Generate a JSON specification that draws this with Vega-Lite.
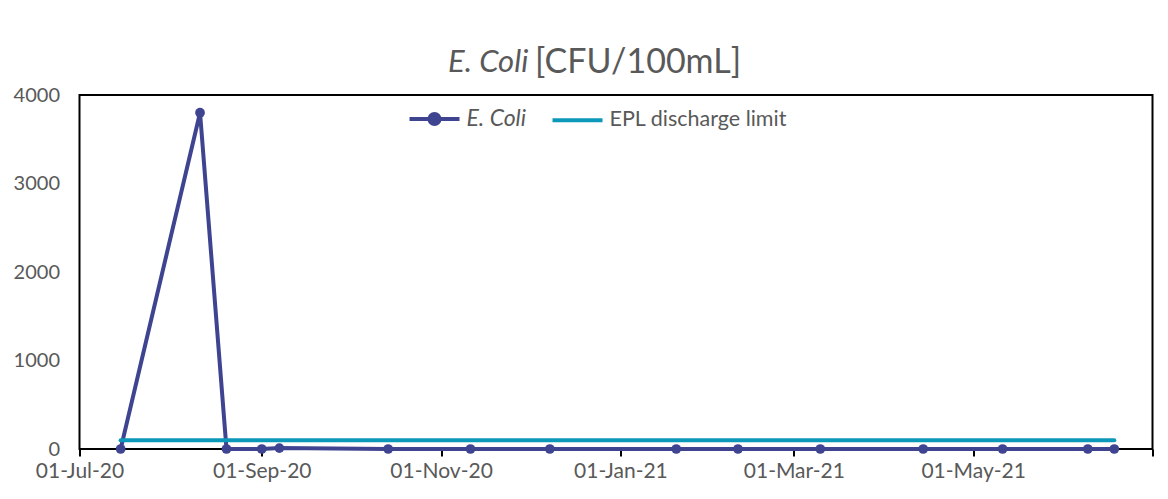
{
  "$schema": "https://vega.github.io/schema/vega-lite/v6.json",
  "width": 1073,
  "height": 354,
  "autosize": "none",
  "padding": {"left": 79.5, "top": 95, "right": 15.5, "bottom": 50},
  "background": "white",
  "config": {
    "font": "Lato",
    "view": {"stroke": "black", "strokeWidth": 2}
  },
  "data": {
    "values": [
      {"date": "2020-07-15", "series": "E. Coli", "value": 0},
      {"date": "2020-08-11", "series": "E. Coli", "value": 3800},
      {"date": "2020-08-20", "series": "E. Coli", "value": 0},
      {"date": "2020-09-01", "series": "E. Coli", "value": 0},
      {"date": "2020-09-07", "series": "E. Coli", "value": 10},
      {"date": "2020-10-14", "series": "E. Coli", "value": 0},
      {"date": "2020-11-11", "series": "E. Coli", "value": 0},
      {"date": "2020-12-08", "series": "E. Coli", "value": 0},
      {"date": "2021-01-20", "series": "E. Coli", "value": 0},
      {"date": "2021-02-10", "series": "E. Coli", "value": 0},
      {"date": "2021-03-10", "series": "E. Coli", "value": 0},
      {"date": "2021-04-14", "series": "E. Coli", "value": 0},
      {"date": "2021-05-11", "series": "E. Coli", "value": 0},
      {"date": "2021-06-09", "series": "E. Coli", "value": 0},
      {"date": "2021-06-18", "series": "E. Coli", "value": 0},
      {"date": "2020-07-15", "series": "EPL discharge limit", "value": 100},
      {"date": "2021-06-18", "series": "EPL discharge limit", "value": 100}
    ]
  },
  "encoding": {
    "x": {
      "field": "date",
      "type": "temporal",
      "scale": {
        "type": "utc",
        "domain": [1593561600000, 1625097600000]
      },
      "axis": {
        "title": "E. Coli",
        "titleAngle": 0,
        "titleAlign": "left",
        "titleBaseline": "alphabetic",
        "titleX": 368,
        "titleY": -378,
        "titleFont": "Lato",
        "titleFontSize": 31,
        "titleFontStyle": "italic",
        "titleFontWeight": "normal",
        "titleColor": "#595959",
        "values": [1593561600000, 1598918400000, 1604188800000, 1609459200000, 1614556800000, 1619827200000, 1625097600000],
        "labelExpr": "datum.value >= 1625097600000 ? '' : utcFormat(datum.value, '%d-%b-%y')",
        "grid": false,
        "domain": false,
        "ticks": true,
        "tickOpacity": 1,
        "tickColor": "black",
        "tickWidth": 2,
        "tickSize": 7,
        "labelFontSize": 21,
        "labelColor": "#595959",
        "labelPadding": 4,
        "labelFlush": false,
        "labelOverlap": false
      }
    },
    "y": {
      "field": "value",
      "type": "quantitative",
      "scale": {"domain": [0, 4000], "nice": false},
      "axis": {
        "title": "[CFU/100mL]",
        "titleAngle": 0,
        "titleAlign": "left",
        "titleBaseline": "alphabetic",
        "titleX": 455,
        "titleY": -23,
        "titleFont": "Lato",
        "titleFontSize": 34,
        "titleFontWeight": "normal",
        "titleColor": "#595959",
        "values": [0, 1000, 2000, 3000, 4000],
        "format": "d",
        "grid": false,
        "domain": false,
        "ticks": false,
        "labelFontSize": 20,
        "labelColor": "#595959",
        "labelPadding": 20,
        "labelFlush": false
      }
    },
    "color": {
      "field": "series",
      "type": "nominal",
      "scale": {
        "domain": ["E. Coli", "EPL discharge limit"],
        "range": ["#3F4491", "#0C98B8"]
      },
      "legend": {
        "orient": "none",
        "legendX": 328,
        "legendY": -3,
        "direction": "horizontal",
        "title": null,
        "symbolType": "M-1,0H1",
        "symbolSize": 2500,
        "symbolStrokeWidth": 4,
        "labelFontSize": 21.5,
        "labelLimit": 0,
        "labelColor": "#595959",
        "labelOffset": 5,
        "columnPadding": 18,
        "encode": {
          "symbols": {
            "update": {
              "shape": {"signal": "datum.value == 'E. Coli' ? 'M-1,0H1M0.2,0A0.2,0.2,0,1,1,-0.2,0A0.2,0.2,0,1,1,0.2,0Z' : 'M-1,0H1'"},
              "fill": {"signal": "datum.value == 'E. Coli' ? '#3F4491' : 'transparent'"}
            }
          },
          "labels": {
            "update": {
              "fontStyle": {"signal": "datum.value == 'E. Coli' ? 'italic' : 'normal'"},
              "fontSize": {"signal": "datum.value == 'E. Coli' ? 23 : 21.5"}
            }
          }
        }
      }
    }
  },
  "layer": [
    {
      "transform": [{"filter": "datum.series == 'E. Coli'"}],
      "mark": {"type": "line", "strokeWidth": 4}
    },
    {
      "transform": [{"filter": "datum.series == 'E. Coli'"}],
      "mark": {"type": "point", "filled": true, "opacity": 1, "size": 95},
      "encoding": {"color": {"value": "#3F4491"}}
    },
    {
      "transform": [{"filter": "datum.series == 'EPL discharge limit'"}],
      "mark": {"type": "line", "strokeWidth": 4, "strokeCap": "round"}
    }
  ]
}
